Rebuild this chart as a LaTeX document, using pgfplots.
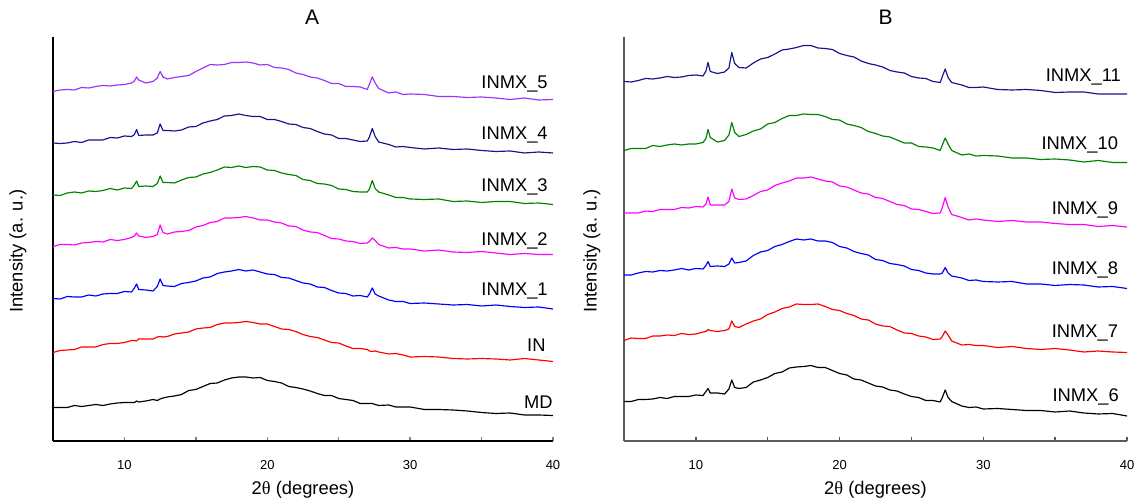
\documentclass[border=0pt]{standalone}
\usepackage{fontspec}
\setmainfont{Liberation Sans}
\usepackage{pgfplots}
\usepackage{pgfplotstable}
\pgfplotsset{compat=1.18}

\definecolor{xviolet}{RGB}{155,50,255}
\definecolor{xnavy}{RGB}{20,20,140}
\definecolor{xgreen}{RGB}{0,130,0}
\definecolor{xmag}{RGB}{255,0,255}
\definecolor{xblue}{RGB}{0,0,255}
\definecolor{xred}{RGB}{255,0,0}
\definecolor{axgray}{RGB}{90,90,90}

% intensities relative to each pattern's own start (stacking offsets added when plotting)
\pgfplotstableread{
x MD IN M1 M2 M3 M4 M5
5 0.5 -0.5 0.5 -0.5 0 1 -0.5
5.5 0.5 1.5 0 1.5 -0.5 0.5 1
6 0.5 2 2.5 1.5 2 1 1.5
6.5 2.5 2.5 2 1 3 2.5 1
7 1.5 5 2 3 2 1.5 3.5
7.5 2.5 5 4 3.5 4 4 3
8 3.5 5 3 4.5 3.5 4 4.5
8.5 2.5 7.5 5 4 4.5 4 5.5
9 4 8.5 5.5 6.5 6.5 6.5 5
9.5 5 8.5 5.5 5.5 5 6 6
10 5.5 9.5 7.5 6.5 7 8 6.5
10.5 5.5 11.5 7 8.5 6.5 7.5 8
10.7 5.5 11.5 11 10 10 9.5 10
10.85 7 11 15 13 14 14.5 14
11.0 6 13 9.5 10 8.5 8.5 11
11.5 7 13 9 8.5 9 9 8
12.0 8.5 13 8 9.5 8.5 9 9.5
12.3 7.5 15 12.5 11.5 11.5 11 13
12.5 9 15.5 20 21 19 20 19.5
12.7 10 15 13.5 13.5 12.5 13.5 14
13.0 11 15.5 13 12 12.5 13.5 12
13.5 12 18 12.5 14 12 13 13.5
14 13.5 19 15.5 14.5 15 14 14.5
14.5 17.5 20 16.5 15.5 17.5 17 15.5
15 18.5 23 18 19 18 17.5 19.5
15.5 21.5 24 21 20.5 21 21 23
16 24.5 24.5 22 23.5 22.5 23 26.5
16.5 25 27.5 25.5 24.5 25 24.5 26
17 28 29 27 28 28 28 26.5
17.5 30 29 28 28 27.5 28.5 28.5
18 31 29.5 29.5 28.5 29 30 28.5
18.5 31 30.5 28 29.5 27.5 28.5 29
19 30 29.5 29 28 28.5 27.5 28
19.5 30.5 28 27 26 28 27.5 26
20 27.5 28 25 26 25 24.5 26.5
20.5 26.5 25.5 24.5 24 24.5 24.5 23.5
21 25 23 21.5 23 22 22.5 23
21.5 21.5 22.5 21 20 20.5 20 21.5
22 20.5 20.5 18.5 19.5 19.5 19.5 18
22.5 19 17.5 16 16 15.5 16.5 16.5
23 17 15.5 15 14 14.5 15.5 14
23.5 14.5 14.5 12 13.5 11.5 12.5 13
24 12.5 12 11.5 10.5 11 10 10.5
24.5 12.5 9.5 8.5 7.5 9.5 9 7.5
25 9.5 9 6 7 6 5.5 7.5
25.5 8.5 6 5.5 5 5.5 5.5 4.5
26 7.5 3.5 3 4.5 3.5 4 4.5
26.5 4.5 3.5 3.5 2.5 3 2.5 4
27.0 4.5 2.5 2 3 3 3 1.5
27.15 4.5 1 5 4.5 6 7 7
27.35 4.5 0.5 11 8 14.5 15.5 14
27.55 3.5 1 5 5.5 6.5 7.5 8
27.8 2.5 0 3 1.5 3 2 2.5
28.5 3 -2 -1 -2 0 -0.5 -2
29 1 -1.5 -2.5 -1.5 -2.5 -3 -1
29.5 1 -3 -2.5 -3 -2.5 -2.5 -3.5
30 1 -5 -4.5 -3 -4 -3.5 -3
31 -1.5 -4.5 -4 -5 -4.5 -5 -3.5
32 -1.5 -5 -5 -4 -4 -4 -5.5
33 -2 -6.5 -6 -6 -6.5 -5.5 -5.5
34 -3 -7 -5.5 -6.5 -6 -5 -6.5
35 -4.5 -6.5 -7 -5.5 -7.5 -6.5 -6
36 -5.5 -7 -6 -7 -6.5 -7.5 -7
37 -5 -8 -7.5 -8.5 -6.5 -7 -8.5
38 -7 -6.5 -8.5 -7.5 -8.5 -9 -7
39 -7 -8 -8 -8.5 -8 -8 -9
40 -7.5 -9.5 -10 -8.5 -9.5 -9 -8.5
}\tabA

\pgfplotstableread{
x M6 M7 M8 M9 M10 M11
5 0.5 -0.5 0 1 -0.5 0.5
5.5 0.5 2 0 1 1.5 0
6 2.5 1.5 2 1 1.5 1.5
6.5 2.5 1.5 3.5 3 1.5 3.5
7 3 4 3 2.5 4.5 3
7.5 4.5 4 4.5 4.5 3.5 4
8 3.5 5 4 4.5 5 5.5
8.5 5.5 4.5 5 4.5 6 4.5
9 5.5 6.5 6.5 6.5 5 5
9.5 5.5 5.5 5 6 6 6.5
10 7 6 6.5 7.5 6 7
10.5 6.5 8 6 7 7.5 6
10.7 10.5 8.5 9.5 10 11.5 11
10.85 13.5 10.5 13.5 17 20.5 19.5
11.0 9 9.5 8.5 9 12.5 10.5
11.5 9 8.5 9 9 8 8.5
12.0 8 9.5 8.5 9 9.5 10
12.3 13 11 11 12.5 15 14
12.5 22 19 17 25 27.5 29.5
12.7 14.5 13.5 12 16 17.5 18.5
13.0 13.5 12.5 12.5 14.5 13.5 14.5
13.5 14.5 16 14 15 15.5 14
14 20 19 19.5 18.5 19 19
14.5 22 21 23 22.5 21 23
15 24.5 25.5 24.5 24 26 24.5
15.5 28.5 28 28.5 28.5 27.5 28
16 30 31.5 30.5 31 31.5 32
16.5 34 33 33.5 33 34.5 33
17 35 36 36 36 34.5 34.5
17.5 35.5 35.5 35 36 36 36.5
18 36.5 35.5 36 37 35.5 36.5
18.5 34.5 36 34 35 35.5 34
19 34.5 33.5 34 33 33.5 33.5
19.5 31.5 30.5 32.5 32 30.5 32.5
20 28.5 29.5 28.5 28 30 28.5
20.5 27 26.5 27 27 26 26.5
21 23 24.5 23.5 24 24.5 25
21.5 22 21 21.5 21 22.5 21
22 19 20 20 20 18.5 18.5
22.5 16 16 15.5 16.5 16.5 17
23 15 14 14.5 15.5 14 15
23.5 12 13.5 11.5 12.5 13 11.5
24 11 10 10.5 9.5 10 10
24.5 8 7 9 8.5 7 9
25 5.5 6.5 5.5 5 7 5.5
25.5 4.5 4 4.5 4.5 3.5 4
26 1.5 3 2 2.5 3 3.5
26.5 1.5 0.5 1 0.5 2 0.5
27.0 0 1 1 1 -0.5 -0.5
27.15 4.5 3.5 2 6.5 5 5.5
27.35 12 9 7.5 16.5 12 13
27.55 4.5 5 2 7 6 4.5
27.8 0.5 -1 -1 -0.5 -0.5 -0.5
28.5 -4 -5 -3 -3.5 -5 -3
29 -5.5 -4.5 -5.5 -6 -4 -5.5
29.5 -5 -5.5 -5 -5 -6 -5.5
30 -7 -5.5 -6.5 -6 -5.5 -5
31 -6.5 -7.5 -7 -7.5 -6 -7.5
32 -7.5 -6.5 -6.5 -6.5 -8 -8
33 -8.5 -8.5 -9 -8 -8 -7.5
34 -8.5 -9.5 -9 -8 -9.5 -8.5
35 -10 -8.5 -10.5 -9.5 -9 -10.5
36 -9 -10 -9.5 -10.5 -10 -10
37 -11 -12 -10 -10.5 -12 -10
38 -12 -11 -12 -12.5 -10.5 -12
39 -11.5 -12 -11.5 -11.5 -12.5 -12
40 -14 -12.5 -13.5 -13 -12.5 -12
}\tabB

\tikzset{lbl/.style={anchor=east, inner sep=0pt, font=\fontsize{11}{13}\selectfont}}

\pgfplotsset{
  xrd/.style={
    scale only axis,
    width=300pt, height=242.4pt,
    anchor=south west,
    axis lines=left,
    axis line style={-, line width=0.9pt},
    xmin=5, xmax=40, ymin=0, ymax=404,
    xtick={5,10,...,40},
    xticklabels={,10,,20,,30,,40},
    ytick=\empty,
    tick align=inside,
    major tick length=2.6pt,
    tick style={line width=0.9pt},
    /pgf/number format/assume math mode=true,
    xticklabel style={font=\fontsize{7.8}{9}\selectfont, yshift=-8pt},
    xlabel={2{\fontspec{Liberation Serif}θ} (degrees)},
    ylabel={Intensity (a. u.)},
    label style={font=\fontsize{11}{13}\selectfont},
    xlabel style={at={(axis description cs:0.5,-0.121)}, anchor=center},
    title style={font=\fontsize{12.6}{15}\selectfont, anchor=center},
    no markers,
    clip=false,
    every axis plot/.append style={line width=0.7pt, line join=round},
  },
}

\begin{document}
\begin{tikzpicture}
\path[use as bounding box] (0,0) rectangle (680.4pt,299.4pt);

\begin{axis}[xrd, at={(31.8pt,34.8pt)},
  title={A}, title style={at={(axis description cs:0.518,1.025)}},
  ylabel style={at={(axis description cs:-0.07,0.47)}, anchor=center}]
\addplot[black]   table[x=x, y expr=\thisrow{MD}+33]  {\tabA};
\addplot[xred]    table[x=x, y expr=\thisrow{IN}+89]  {\tabA};
\addplot[xblue]   table[x=x, y expr=\thisrow{M1}+142] {\tabA};
\addplot[xmag]    table[x=x, y expr=\thisrow{M2}+195] {\tabA};
\addplot[xgreen]  table[x=x, y expr=\thisrow{M3}+246] {\tabA};
\addplot[xnavy]   table[x=x, y expr=\thisrow{M4}+297] {\tabA};
\addplot[xviolet] table[x=x, y expr=\thisrow{M5}+350] {\tabA};
\node[lbl] at (axis cs:39.65,357) {INMX\_5};
\node[lbl] at (axis cs:39.65,306) {INMX\_4};
\node[lbl] at (axis cs:39.65,254) {INMX\_3};
\node[lbl] at (axis cs:39.65,200) {INMX\_2};
\node[lbl] at (axis cs:39.65,150) {INMX\_1};
\node[lbl] at (axis cs:39.5,96) {IN};
\node[lbl] at (axis cs:40.0,39) {MD};
\end{axis}

\begin{axis}[xrd, at={(374.4pt,34.8pt)}, width=301.8pt,
  axis line style={axgray}, tick style={axgray},
  title={B}, title style={at={(axis description cs:0.52,1.025)}},
  ylabel style={at={(axis description cs:-0.064,0.47)}, anchor=center}]
\addplot[black]  table[x=x, y expr=\thisrow{M6}+39]  {\tabB};
\addplot[xred]   table[x=x, y expr=\thisrow{M7}+101] {\tabB};
\addplot[xblue]  table[x=x, y expr=\thisrow{M8}+166] {\tabB};
\addplot[xmag]   table[x=x, y expr=\thisrow{M9}+227] {\tabB};
\addplot[xgreen] table[x=x, y expr=\thisrow{M10}+291] {\tabB};
\addplot[xnavy]  table[x=x, y expr=\thisrow{M11}+359] {\tabB};
\node[lbl] at (axis cs:39.6,364) {INMX\_11};
\node[lbl] at (axis cs:39.4,296) {INMX\_10};
\node[lbl] at (axis cs:39.4,231) {INMX\_9};
\node[lbl] at (axis cs:39.4,171) {INMX\_8};
\node[lbl] at (axis cs:39.4,108) {INMX\_7};
\node[lbl] at (axis cs:39.45,44) {INMX\_6};
\end{axis}
\end{tikzpicture}
\end{document}
